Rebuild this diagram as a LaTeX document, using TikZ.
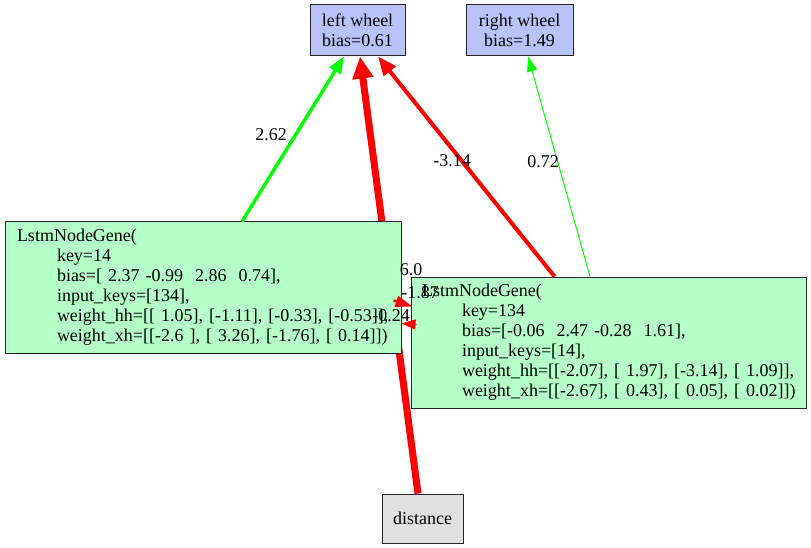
\documentclass[tikz,border=0pt]{standalone}
\usepackage{fontspec}
\setmainfont{Liberation Serif}
\usetikzlibrary{arrows.meta,calc}

\definecolor{outfill}{RGB}{186,194,250}
\definecolor{genefill}{RGB}{181,255,201}
\definecolor{infill}{RGB}{224,224,224}
\definecolor{gvred}{RGB}{255,0,0}
\definecolor{gvgreen}{RGB}{0,255,0}

\tikzset{
  every node/.style={font=\fontsize{18}{20}\selectfont},
  plainbox/.style={draw=black!85, line width=1pt, inner sep=0pt, align=center},
  outbox/.style={plainbox, fill=outfill},
  inbox/.style={plainbox, fill=infill},
  genebox/.style={draw=black!85, line width=1pt, fill=genefill, inner xsep=12pt,
    inner ysep=0pt, text width=372pt, align=left, minimum height=131pt},
  negwire/.style={draw=gvred},
  poswire/.style={draw=gvgreen},
  wlabel/.style={inner sep=0pt}
}

\begin{document}
\begin{tikzpicture}[x=1pt,y=-1pt]
\useasboundingbox (0,0) rectangle (811,548);

% input and output nodes
\node[outbox, minimum width=95pt, minimum height=51pt] (lw) at (357.5,30.5)
  {left wheel\\bias=0.61};
\node[outbox, minimum width=107pt, minimum height=51pt] (rw) at (519.5,30.5)
  {right wheel\\bias=1.49};
\node[inbox, minimum width=81pt, minimum height=49pt] (dist) at (422.5,518.5)
  {distance};

% heavy connection from the input runs underneath the hidden nodes
\draw[negwire, line width=7pt, -{Triangle[length=22pt,width=20pt]}]
  ($(dist.north)+(-4.5,0)$) -- ($(lw.south)+(2.5,0)$);

% hidden LSTM nodes
\node[genebox] (n14) at (203,287.5) {\begin{tabular}{@{}l@{}}
LstmNodeGene(\\
\hspace*{40pt}key=14\\
\hspace*{40pt}bias=[ 2.37 -0.99\ \ 2.86\ \ 0.74],\\
\hspace*{40pt}input\_keys=[134],\\
\hspace*{40pt}weight\_hh=[[ 1.05], [-1.11], [-0.33], [-0.53]],\\
\hspace*{40pt}weight\_xh=[[-2.6 ], [ 3.26], [-1.76], [ 0.14]])
\end{tabular}};
\node[genebox, inner xsep=11pt, text width=373pt] (n134) at (608.5,342.5) {\begin{tabular}{@{}l@{}}
LstmNodeGene(\\
\hspace*{40pt}key=134\\
\hspace*{40pt}bias=[-0.06\ \ 2.47 -0.28\ \ 1.61],\\
\hspace*{40pt}input\_keys=[14],\\
\hspace*{40pt}weight\_hh=[[-2.07], [ 1.97], [-3.14], [ 1.09]],\\
\hspace*{40pt}weight\_xh=[[-2.67], [ 0.43], [ 0.05], [ 0.02]])
\end{tabular}};

% remaining connections
\draw[poswire, line width=3.4pt, -{Triangle[length=17pt,width=13pt]}]
  ($(n14.north)+(39,0)$) -- ($(lw.south)+(-13.5,0)$);
\draw[negwire, line width=4pt, -{Triangle[length=19pt,width=15pt]}]
  ($(n134.north west)+(144,0)$) -- ($(lw.south)+(20.5,0)$);
\draw[poswire, line width=1pt, -{Triangle[length=15pt,width=10pt]}]
  ($(n134.north)+(-18.5,0)$) -- ($(rw.south)+(8.5,0)$);
\draw[negwire, line width=2.5pt, -{Triangle[length=17pt,width=11pt]}]
  ($(n14.north east)+(-8,79)$) -- ($(n134.north west)+(2,30)$);
\draw[negwire, line width=0.8pt, -{Triangle[length=14pt,width=10pt]}]
  ($(n134.north west)+(6,48)$) -- ($(n14.north east)+(0,102)$);

% connection weights
\node[wlabel] (l262) at (271,135) {2.62};
\node[wlabel] (l314) at (452,161) {-3.14};
\node[wlabel] (l072) at (543,162) {0.72};
\node[wlabel] (l60)  at (411,270) {6.0};
\node[wlabel] (l187) at (420,293) {-1.87};
\node[wlabel] (l024) at (391,316) {-0.24};
\end{tikzpicture}
\end{document}
